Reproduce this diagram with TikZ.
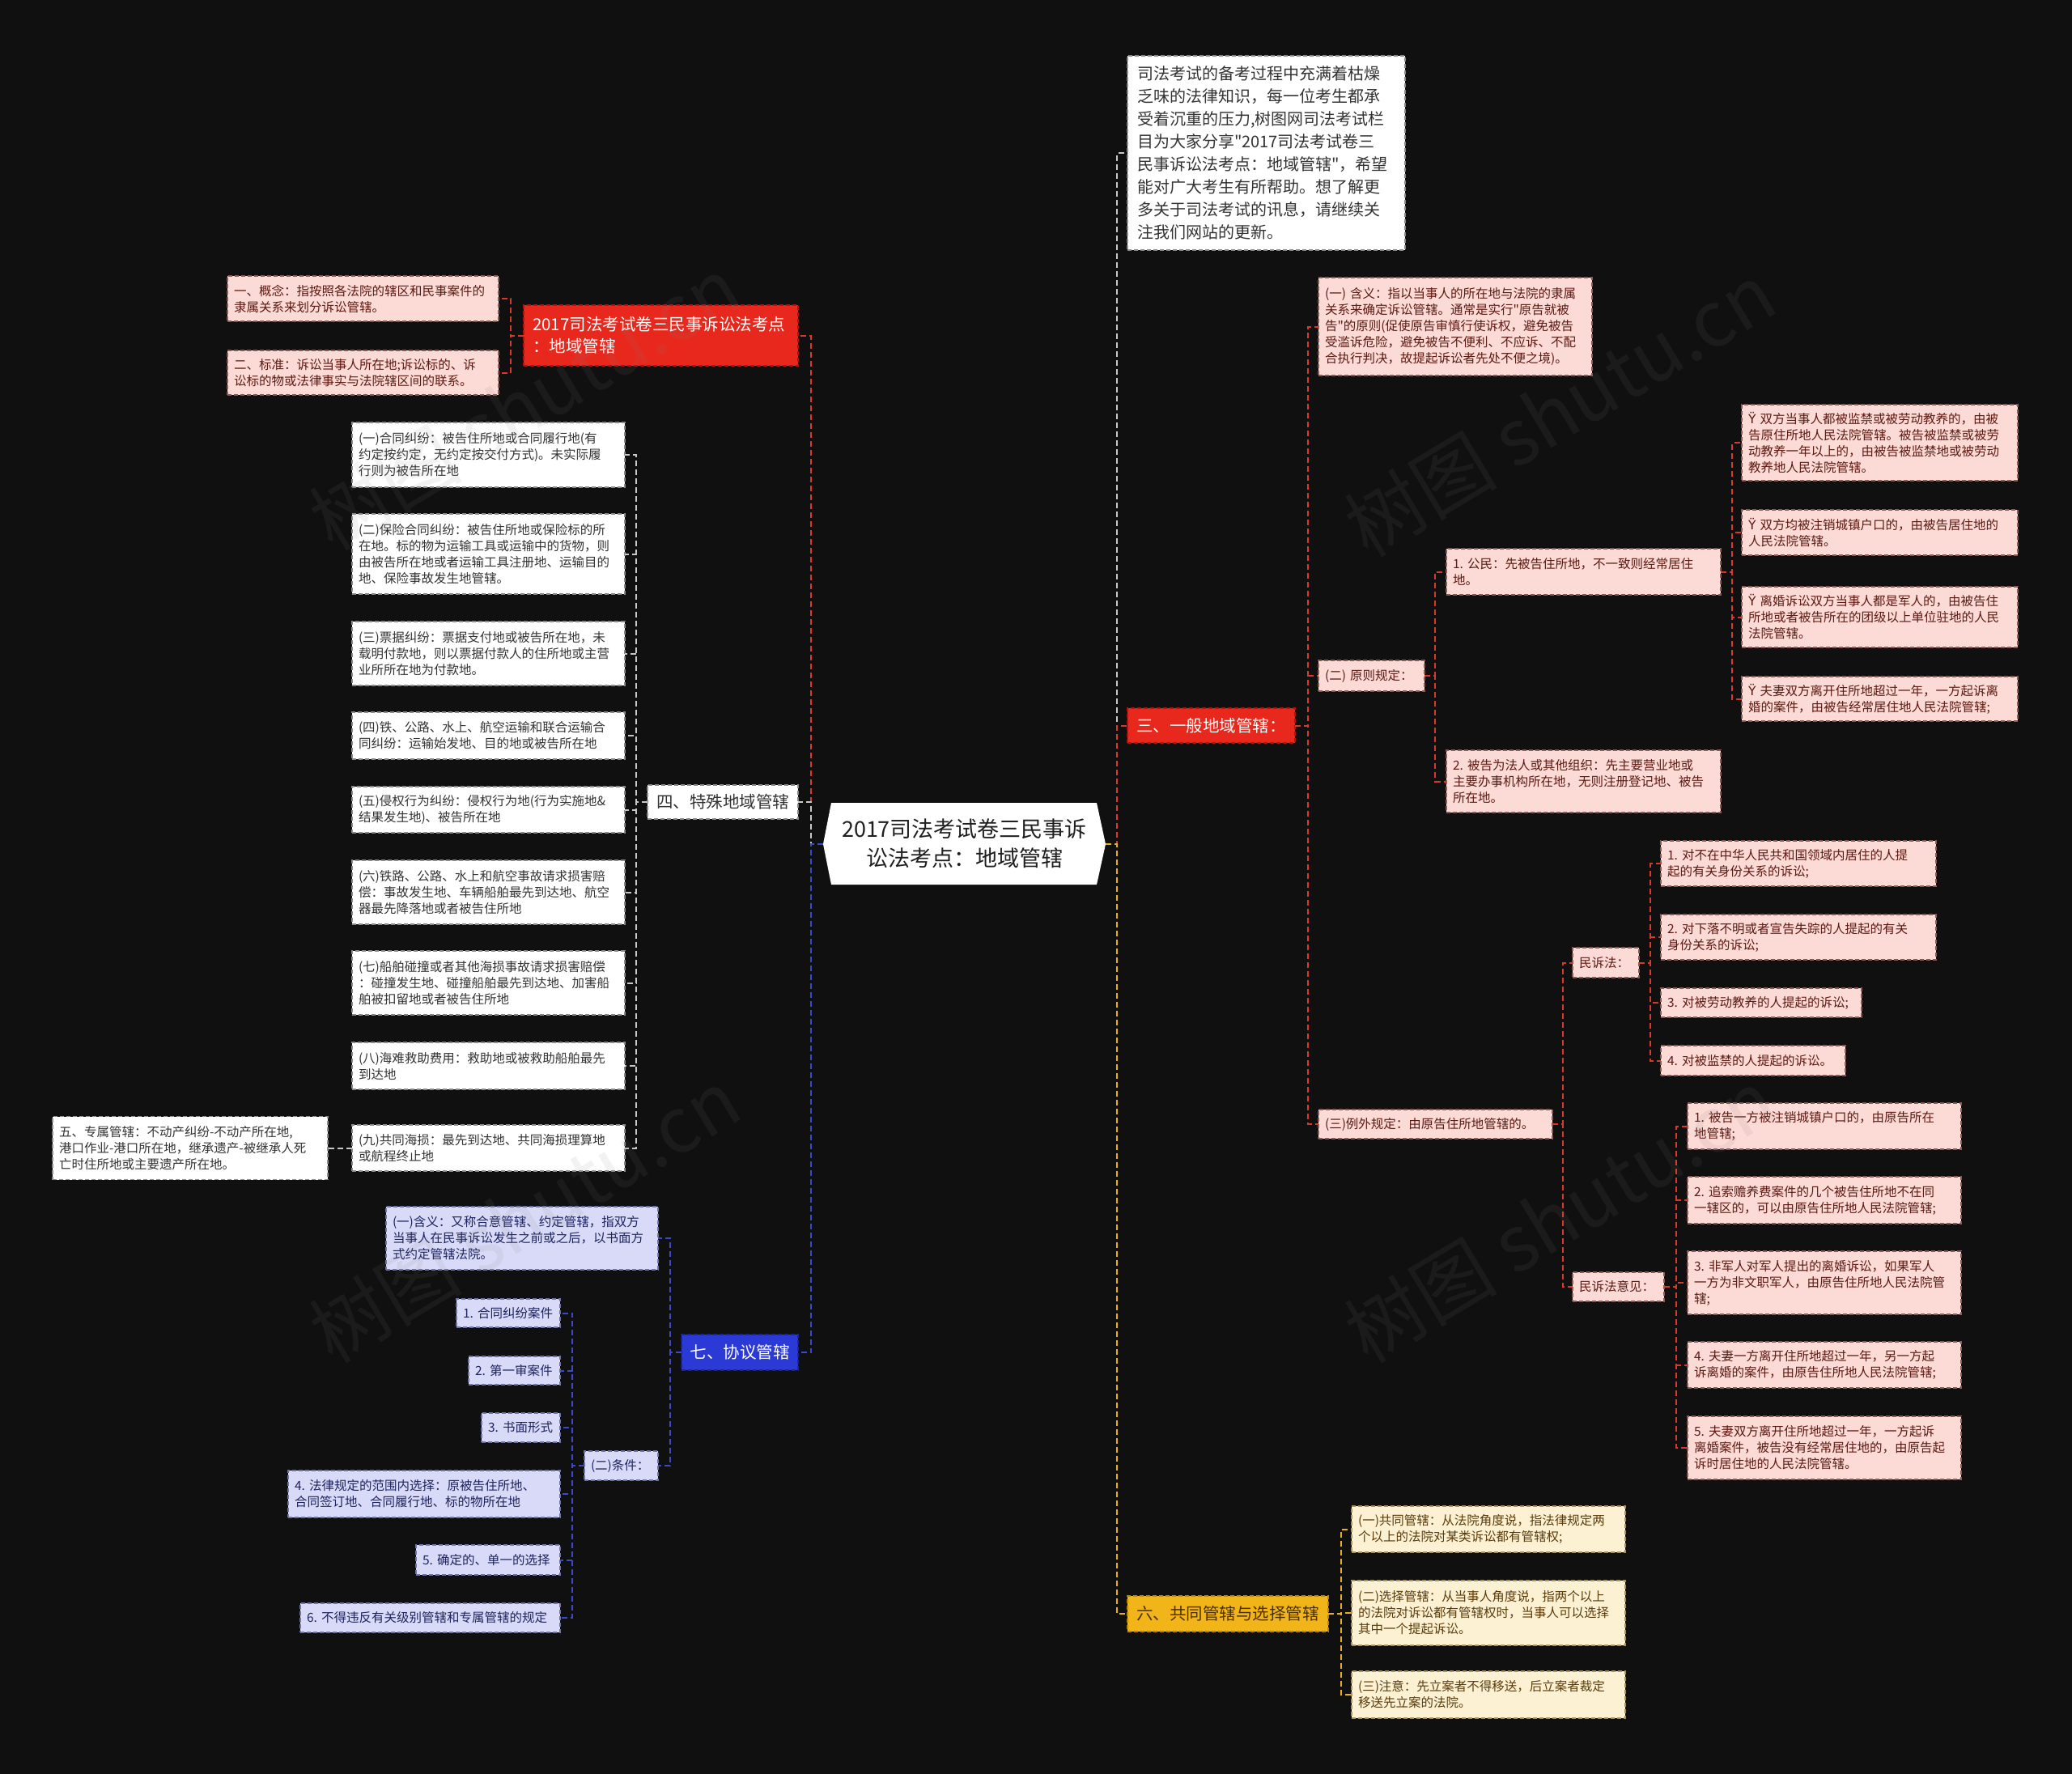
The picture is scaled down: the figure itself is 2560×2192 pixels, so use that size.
\documentclass[tikz,border=0pt]{standalone}
\usepackage{fontspec}
\setmainfont{Noto Sans CJK SC}[Ligatures=TeXOff]
\newfontfamily\djv{DejaVu Sans}
\definecolor{bgc}{HTML}{101010}
\definecolor{wfill}{HTML}{FFFFFF}
\definecolor{wborder}{HTML}{8A8A8A}
\definecolor{wtext}{HTML}{333333}
\definecolor{pfill}{HTML}{FCDAD5}
\definecolor{pborder}{HTML}{8C5A55}
\definecolor{ptext}{HTML}{5C1A12}
\definecolor{lfill}{HTML}{D8DAF7}
\definecolor{lborder}{HTML}{6F74A8}
\definecolor{ltext}{HTML}{1E2460}
\definecolor{cfill}{HTML}{FDF1D4}
\definecolor{cborder}{HTML}{A8925E}
\definecolor{ctext}{HTML}{5A3C0A}
\definecolor{redb}{HTML}{E8281C}
\definecolor{redbd}{HTML}{A8160E}
\definecolor{yelb}{HTML}{F2B519}
\definecolor{yelbd}{HTML}{B8860B}
\definecolor{yeltext}{HTML}{4A3000}
\definecolor{blub}{HTML}{2B3AD6}
\definecolor{blubd}{HTML}{1A268F}
\definecolor{redl}{HTML}{D8392B}
\definecolor{whil}{HTML}{C8C8C8}
\definecolor{blul}{HTML}{3A4AC8}
\definecolor{yell}{HTML}{E6B020}
\newcommand\lfont{\fontsize{15.5}{20}\selectfont}
\newcommand\ifont{\fontsize{20}{28}\selectfont}
\newcommand\bfont{\fontsize{20.5}{27}\selectfont}
\newcommand\cfont{\fontsize{27}{36}\selectfont}
\newcommand\Y{{\djv Ÿ}}
\begin{document}
\begin{tikzpicture}[x=1pt,y=-1pt,
  box/.style={inner sep=0pt, outer sep=0pt, dash pattern=on 5pt off 3pt, line width=1.2pt},
  sz/.style 2 args={minimum width=#1pt, minimum height=#2pt, text width=#1pt-16pt},
  wleaf/.style={box, fill=wfill, draw=wborder, text=wtext, font=\lfont, align=left},
  pleaf/.style={box, fill=pfill, draw=pborder, text=ptext, font=\lfont, align=left},
  lleaf/.style={box, fill=lfill, draw=lborder, text=ltext, font=\lfont, align=left},
  cleaf/.style={box, fill=cfill, draw=cborder, text=ctext, font=\lfont, align=left},
  introbox/.style={box, fill=wfill, draw=wborder, text=wtext, font=\ifont, align=left},
  redbr/.style={box, fill=redb, draw=redbd, text=white, font=\bfont},
  yelbr/.style={box, fill=yelb, draw=yelbd, text=yeltext, font=\bfont, align=center},
  blubr/.style={box, fill=blub, draw=blubd, text=white, font=\bfont, align=center},
  whibr/.style={box, fill=wfill, draw=wborder, text=wtext, font=\bfont, align=center},
  conn/.style={line width=2pt, dash pattern=on 7pt off 4pt},
  wmark/.style={rotate=31, text=gray, opacity=0.1, font=\fontsize{95}{100}\selectfont, inner sep=0pt}
]
\useasboundingbox (0,0) rectangle (2560,2192);
\fill[bgc] (0,0) rectangle (2560,2192);

% ---------- center ----------
\fill[white] (1027,992) -- (1355,992) -- (1366,1043) -- (1355,1093) -- (1027,1093) -- (1017,1043) -- cycle;
\node[inner sep=0pt, outer sep=0pt, minimum width=349pt, minimum height=101pt, text width=320pt, align=center, font=\cfont, text=black!88] (ctr) at (1191.5,1042.5) {2017司法考试卷三民事诉\\讼法考点：地域管辖};

% ---------- right side ----------
\node[introbox, minimum width=343pt, minimum height=240pt, text width=319pt] (intro) at (1564.5,189) {司法考试的备考过程中充满着枯燥\\乏味的法律知识，每一位考生都承\\受着沉重的压力,树图网司法考试栏\\目为大家分享"2017司法考试卷三\\民事诉讼法考点：地域管辖"，希望\\能对广大考生有所帮助。想了解更\\多关于司法考试的讯息，请继续关\\注我们网站的更新。};

\node[redbr, minimum width=207pt, minimum height=43pt, align=center] (san) at (1496.5,896.5) {三、一般地域管辖：};

\node[pleaf, sz={338}{121}] (hanyi) at (1798,403.5) {(一)~含义：指以当事人的所在地与法院的隶属\\关系来确定诉讼管辖。通常是实行"原告就被\\告"的原则(促使原告审慎行使诉权，避免被告\\受滥诉危险，避免被告不便利、不应诉、不配\\合执行判决，故提起诉讼者先处不便之境)。};
\node[pleaf, sz={131}{38}] (yuanze) at (1694.5,835) {(二)~原则规定：};
\node[pleaf, sz={339}{57}] (gongmin) at (1956.5,706.5) {1.~公民：先被告住所地，不一致则经常居住\\地。};
\node[pleaf, sz={339}{77}] (faren) at (1956.5,965.5) {2.~被告为法人或其他组织：先主要营业地或\\主要办事机构所在地，无则注册登记地、被告\\所在地。};
\node[pleaf, sz={341}{94}] (ya) at (2322.5,547) {\Y~双方当事人都被监禁或被劳动教养的，由被\\告原住所地人民法院管辖。被告被监禁或被劳\\动教养一年以上的，由被告被监禁地或被劳动\\教养地人民法院管辖。};
\node[pleaf, sz={341}{56}] (yb) at (2322.5,658) {\Y~双方均被注销城镇户口的，由被告居住地的\\人民法院管辖。};
\node[pleaf, sz={341}{75}] (yc) at (2322.5,762.5) {\Y~离婚诉讼双方当事人都是军人的，由被告住\\所地或者被告所在的团级以上单位驻地的人民\\法院管辖。};
\node[pleaf, sz={341}{55}] (yd) at (2322.5,863.5) {\Y~夫妻双方离开住所地超过一年，一方起诉离\\婚的案件，由被告经常居住地人民法院管辖;};

\node[pleaf, sz={289}{36}] (liwai) at (1773.5,1389) {(三)例外规定：由原告住所地管辖的。};
\node[pleaf, sz={82}{37}] (msf) at (1984,1189.5) {民诉法：};
\node[pleaf, sz={113}{36}] (msfyj) at (1999.5,1590) {民诉法意见：};

\node[pleaf, sz={340}{56}] (ma) at (2222,1067) {1.~对不在中华人民共和国领域内居住的人提\\起的有关身份关系的诉讼;};
\node[pleaf, sz={340}{56}] (mb) at (2222,1158) {2.~对下落不明或者宣告失踪的人提起的有关\\身份关系的诉讼;};
\node[pleaf, sz={248}{36}] (mc) at (2176,1239) {3.~对被劳动教养的人提起的诉讼;};
\node[pleaf, sz={228}{37}] (md) at (2166,1310.5) {4.~对被监禁的人提起的诉讼。};

\node[pleaf, sz={338}{57}] (ja) at (2254,1391.5) {1.~被告一方被注销城镇户口的，由原告所在\\地管辖;};
\node[pleaf, sz={338}{58}] (jb) at (2254,1483) {2.~追索赡养费案件的几个被告住所地不在同\\一辖区的，可以由原告住所地人民法院管辖;};
\node[pleaf, sz={338}{78}] (jc) at (2254,1585) {3.~非军人对军人提出的离婚诉讼，如果军人\\一方为非文职军人，由原告住所地人民法院管\\辖;};
\node[pleaf, sz={338}{57}] (jd) at (2254,1686.5) {4.~夫妻一方离开住所地超过一年，另一方起\\诉离婚的案件，由原告住所地人民法院管辖;};
\node[pleaf, sz={338}{78}] (je) at (2254,1789) {5.~夫妻双方离开住所地超过一年，一方起诉\\离婚案件，被告没有经常居住地的，由原告起\\诉时居住地的人民法院管辖。};

\node[yelbr, minimum width=248pt, minimum height=44pt] (liu) at (1517,1994) {六、共同管辖与选择管辖};
\node[cleaf, sz={338}{57}] (la) at (1839,1889.5) {(一)共同管辖：从法院角度说，指法律规定两\\个以上的法院对某类诉讼都有管辖权;};
\node[cleaf, sz={338}{80}] (lb) at (1839,1993) {(二)选择管辖：从当事人角度说，指两个以上\\的法院对诉讼都有管辖权时，当事人可以选择\\其中一个提起诉讼。};
\node[cleaf, sz={338}{58}] (lc) at (1839,2094) {(三)注意：先立案者不得移送，后立案者裁定\\移送先立案的法院。};

% ---------- left side ----------
\node[redbr, minimum width=339pt, minimum height=75pt, text width=317pt, align=left] (hong) at (816.5,414.5) {2017司法考试卷三民事诉讼法考点\\：地域管辖};
\node[pleaf, sz={335}{56}] (ra) at (448.5,369) {一、概念：指按照各法院的辖区和民事案件的\\隶属关系来划分诉讼管辖。};
\node[pleaf, sz={335}{55}] (rb) at (448.5,460.5) {二、标准：诉讼当事人所在地;诉讼标的、诉\\讼标的物或法律事实与法院辖区间的联系。};

\node[whibr, minimum width=186pt, minimum height=42pt] (si) at (893,991) {四、特殊地域管辖};
\node[wleaf, sz={337}{80}] (s1) at (603.5,562) {(一)合同纠纷：被告住所地或合同履行地(有\\约定按约定，无约定按交付方式)。未实际履\\行则为被告所在地};
\node[wleaf, sz={337}{99}] (s2) at (603.5,684.5) {(二)保险合同纠纷：被告住所地或保险标的所\\在地。标的物为运输工具或运输中的货物，则\\由被告所在地或者运输工具注册地、运输目的\\地、保险事故发生地管辖。};
\node[wleaf, sz={337}{79}] (s3) at (603.5,807.5) {(三)票据纠纷：票据支付地或被告所在地，未\\载明付款地，则以票据付款人的住所地或主营\\业所所在地为付款地。};
\node[wleaf, sz={337}{58}] (s4) at (603.5,909) {(四)铁、公路、水上、航空运输和联合运输合\\同纠纷：运输始发地、目的地或被告所在地};
\node[wleaf, sz={337}{57}] (s5) at (603.5,1000.5) {(五)侵权行为纠纷：侵权行为地(行为实施地\&\\结果发生地)、被告所在地};
\node[wleaf, sz={337}{79}] (s6) at (603.5,1102.5) {(六)铁路、公路、水上和航空事故请求损害赔\\偿：事故发生地、车辆船舶最先到达地、航空\\器最先降落地或者被告住所地};
\node[wleaf, sz={337}{79}] (s7) at (603.5,1214.5) {(七)船舶碰撞或者其他海损事故请求损害赔偿\\：碰撞发生地、碰撞船舶最先到达地、加害船\\舶被扣留地或者被告住所地};
\node[wleaf, sz={337}{58}] (s8) at (603.5,1317) {(八)海难救助费用：救助地或被救助船舶最先\\到达地};
\node[wleaf, sz={337}{57}] (s9) at (603.5,1418.5) {(九)共同海损：最先到达地、共同海损理算地\\或航程终止地};
\node[wleaf, sz={340}{78}] (wu) at (235,1418.5) {五、专属管辖：不动产纠纷-不动产所在地,\\港口作业-港口所在地，继承遗产-被继承人死\\亡时住所地或主要遗产所在地。};

\node[blubr, minimum width=144pt, minimum height=44pt] (qi) at (914,1671) {七、协议管辖};
\node[lleaf, sz={336}{78}] (qa) at (645,1530) {(一)含义：又称合意管辖、约定管辖，指双方\\当事人在民事诉讼发生之前或之后，以书面方\\式约定管辖法院。};
\node[lleaf, sz={91}{36}] (qb) at (767.5,1811) {(二)条件：};
\node[lleaf, sz={128}{35}] (t1) at (628,1622.5) {1.~合同纠纷案件};
\node[lleaf, sz={113}{35}] (t2) at (635.5,1693.5) {2.~第一审案件};
\node[lleaf, sz={97}{36}] (t3) at (643.5,1764) {3.~书面形式};
\node[lleaf, sz={336}{58}] (t4) at (524,1846) {4.~法律规定的范围内选择：原被告住所地、\\合同签订地、合同履行地、标的物所在地};
\node[lleaf, sz={178}{37}] (t5) at (603,1927.5) {5.~确定的、单一的选择};
\node[lleaf, sz={321}{36}] (t6) at (531.5,1999) {6.~不得违反有关级别管辖和专属管辖的规定};

% ---------- connectors ----------
\draw[conn, whil] (ctr.east) -- ++(14,0) |- (intro.west);
\draw[conn, redl] (ctr.east) -- ++(14,0) |- (san.west);
\draw[conn, yell] (ctr.east) -- ++(14,0) |- (liu.west);
\draw[conn, redl] (ctr.west) -- ++(-15,0) |- (hong.east);
\draw[conn, whil] (ctr.west) -- ++(-15,0) |- (si.east);
\draw[conn, blul] (ctr.west) -- ++(-15,0) |- (qi.east);
\foreach \n in {ra,rb} \draw[conn, redl] (hong.west) -- ++(-16,0) |- (\n.east);
\foreach \n in {s1,s2,s3,s4,s5,s6,s7,s8,s9} \draw[conn, whil] (si.west) -- ++(-14,0) |- (\n.east);
\draw[conn, whil] (s9.west) -- (wu.east);
\foreach \n in {qa,qb} \draw[conn, blul] (qi.west) -- ++(-14,0) |- (\n.east);
\foreach \n in {t1,t2,t3,t4,t5,t6} \draw[conn, blul] (qb.west) -- ++(-15,0) |- (\n.east);
\foreach \n in {hanyi,yuanze,liwai} \draw[conn, redl] (san.east) -- ++(16,0) |- (\n.west);
\foreach \n in {gongmin,faren} \draw[conn, redl] (yuanze.east) -- ++(13,0) |- (\n.west);
\foreach \n in {ya,yb,yc,yd} \draw[conn, redl] (gongmin.east) -- ++(14,0) |- (\n.west);
\foreach \n in {msf,msfyj} \draw[conn, redl] (liwai.east) -- ++(13,0) |- (\n.west);
\foreach \n in {ma,mb,mc,md} \draw[conn, redl] (msf.east) -- ++(14,0) |- (\n.west);
\foreach \n in {ja,jb,jc,jd,je} \draw[conn, redl] (msfyj.east) -- ++(15,0) |- (\n.west);
\foreach \n in {la,lb,lc} \draw[conn, yell] (liu.east) -- ++(16,0) |- (\n.west);

% ---------- watermarks ----------
\node[wmark] (wm1) at (648,498) {树图 shutu.cn};
\node[wmark] (wm2) at (648,1502) {树图 shutu.cn};
\node[wmark] (wm3) at (1927,506) {树图 shutu.cn};
\node[wmark] (wm4) at (1927,1502) {树图 shutu.cn};
\end{tikzpicture}
\end{document}
